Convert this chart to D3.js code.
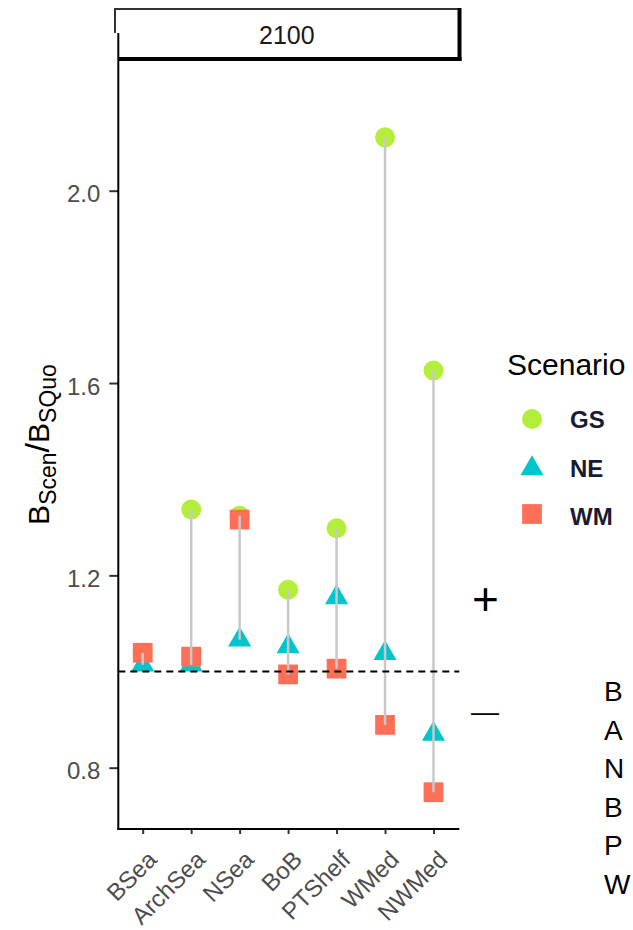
<!DOCTYPE html>
<html>
<head>
<meta charset="utf-8">
<script src="https://cdn.jsdelivr.net/npm/d3@7"></script>
<style>
  html, body { margin: 0; padding: 0; background: #fff; }
  svg { display: block; font-family: "Liberation Sans", Arial, sans-serif; }
</style>
</head>
<body>
<svg id="chart" width="633" height="930"></svg>
<script>
// ---- data ----
const categories = ["BSea", "ArchSea", "NSea", "BoB", "PTShelf", "WMed", "NWMed"];
const scenarios = ["GS", "NE", "WM"];
const gsValues = [1.039, 1.337, 1.324, 1.170, 1.298, 2.111, 1.626];
const neValues = [1.014, 1.014, 1.066, 1.052, 1.154, 1.038, 0.870];
const wmValues = [1.039, 1.031, 1.316, 0.994, 1.006, 0.889, 0.749];
const yTicks = [0.8, 1.2, 1.6, 2.0];
const refLine = 1.0;
const facetLabel = "2100";
const legendTitle = "Scenario";
const sideSigns = ["+", "—"];
const sideLetters = ["B", "A", "N", "B", "P", "W"];

// ---- setup ----
const svg = d3.select("#chart");
svg.append("rect").attr("width", 633).attr("height", 930).attr("fill", "#fff");

const panel = { left: 118.3, right: 459.3, top: 60, bottom: 829 };
const x = d3.scalePoint().domain(categories).range([142.7, 433.5]);
const y = d3.scaleLinear().domain([0.8, 2.0]).range([767.7, 190.7]);

const colors = { GS: "#B3EE3A", NE: "#00C5CD", WM: "#FF6E57" };
const symbolTypes = { GS: d3.symbolCircle, NE: d3.symbolTriangle, WM: d3.symbolSquare };
const symbolSizes = { GS: Math.PI * 100, NE: 231, WM: 390 };
const sym = s => d3.symbol().type(symbolTypes[s]).size(symbolSizes[s])();

const rows = categories.map((c, i) => ({
  cat: c,
  GS: gsValues[i], NE: neValues[i], WM: wmValues[i],
  lo: Math.min(gsValues[i], neValues[i], wmValues[i]),
  hi: Math.max(gsValues[i], neValues[i], wmValues[i])
}));

// ---- strip ----
const strip = svg.append("g");
strip.append("line").attr("x1", 115).attr("x2", 459.5).attr("y1", 9).attr("y2", 9)
  .attr("stroke", "#333").attr("stroke-width", 2);
strip.append("line").attr("x1", 115).attr("x2", 115).attr("y1", 8).attr("y2", 33)
  .attr("stroke", "#333").attr("stroke-width", 2);
strip.append("line").attr("x1", 459.5).attr("x2", 459.5).attr("y1", 8).attr("y2", 61)
  .attr("stroke", "#000").attr("stroke-width", 4);
strip.append("line").attr("x1", 118).attr("x2", 461.5).attr("y1", 59).attr("y2", 59)
  .attr("stroke", "#000").attr("stroke-width", 4);
strip.append("text").attr("x", (panel.left + panel.right) / 2 - 2).attr("y", 44)
  .attr("text-anchor", "middle").attr("font-size", 25).attr("fill", "#1A1A1A")
  .text(facetLabel);

// ---- points ----
const plot = svg.append("g");
scenarios.forEach(s => {
  plot.append("g").selectAll("path").data(rows).join("path")
    .attr("d", sym(s))
    .attr("transform", d => `translate(${x(d.cat)},${y(d[s])})`)
    .attr("fill", colors[s]);
});

// ---- segments (drawn over points) ----
plot.append("g").selectAll("line").data(rows).join("line")
  .attr("x1", d => x(d.cat)).attr("x2", d => x(d.cat))
  .attr("y1", d => y(d.lo)).attr("y2", d => y(d.hi))
  .attr("stroke", "#C8C8C8").attr("stroke-width", 2.5);

// ---- reference line ----
plot.append("line")
  .attr("x1", panel.left).attr("x2", panel.right)
  .attr("y1", y(refLine)).attr("y2", y(refLine))
  .attr("stroke", "#000").attr("stroke-width", 2).attr("stroke-dasharray", "7,5");

// ---- axes ----
const yAxis = svg.append("g").attr("transform", `translate(${panel.left},0)`)
  .call(d3.axisLeft(y).tickValues(yTicks).tickFormat(d3.format(".1f"))
    .tickSize(9).tickPadding(9));
yAxis.select(".domain").remove();
yAxis.selectAll(".tick line").attr("stroke", "#333").attr("stroke-width", 2);
yAxis.selectAll(".tick text").attr("font-size", 24).attr("fill", "#4D4D4D")
  .attr("font-family", "Liberation Sans, Arial, sans-serif").attr("dy", "0.47em");
svg.append("line").attr("x1", panel.left).attr("x2", panel.left)
  .attr("y1", 33).attr("y2", panel.bottom + 1)
  .attr("stroke", "#000").attr("stroke-width", 2);

const xAxis = svg.append("g").attr("transform", `translate(0,${panel.bottom})`)
  .call(d3.axisBottom(x).tickSize(5).tickSizeOuter(0));
xAxis.select(".domain").remove();
xAxis.selectAll(".tick line").attr("stroke", "#333").attr("stroke-width", 2);
xAxis.selectAll(".tick text")
  .attr("font-size", 24).attr("fill", "#4D4D4D")
  .attr("font-family", "Liberation Sans, Arial, sans-serif")
  .attr("text-anchor", "end").attr("dy", null).attr("y", null)
  .attr("transform", "translate(15,32) rotate(-45)");
svg.append("line").attr("x1", panel.left - 1).attr("x2", panel.right)
  .attr("y1", panel.bottom).attr("y2", panel.bottom)
  .attr("stroke", "#000").attr("stroke-width", 2);

// ---- y title ----
const yt = svg.append("text")
  .attr("transform", `translate(49,${(panel.top + panel.bottom) / 2}) rotate(-90)`)
  .attr("text-anchor", "middle").attr("font-size", 30).attr("fill", "#000");
yt.append("tspan").text("B");
yt.append("tspan").attr("font-size", 23).attr("dy", 7).text("Scen");
yt.append("tspan").attr("dy", -7).attr("font-size", 34).text("/");
yt.append("tspan").text("B");
yt.append("tspan").attr("font-size", 23).attr("dy", 7).text("SQuo");

// ---- legend ----
const legend = svg.append("g");
legend.append("text").attr("x", 507).attr("y", 375).attr("font-size", 30)
  .attr("fill", "#000").text(legendTitle);
const legendRows = [419, 467.5, 516];
const keyOffset = { GS: 0, NE: 1, WM: -2 };
scenarios.forEach((s, i) => {
  legend.append("path").attr("d", sym(s))
    .attr("transform", `translate(532,${legendRows[i] + keyOffset[s]})`)
    .attr("fill", colors[s]);
  legend.append("text").attr("x", 570).attr("y", legendRows[i] + 9)
    .attr("font-size", 24).attr("font-weight", "bold").attr("fill", "#1A1A33")
    .text(s);
});

// ---- side annotations (cropped from surrounding figure) ----
svg.append("text").attr("x", 485.5).attr("y", 615).attr("text-anchor", "middle")
  .attr("font-size", 46).attr("fill", "#000").text(sideSigns[0]);
svg.append("text").attr("x", 485).attr("y", 721).attr("text-anchor", "middle")
  .attr("font-size", 28).attr("fill", "#000").text(sideSigns[1]);
svg.append("g").selectAll("text").data(sideLetters).join("text")
  .attr("x", 604).attr("y", (d, i) => 701 + i * 38.5)
  .attr("font-size", 28).attr("fill", "#000").text(d => d);
</script>
</body>
</html>
